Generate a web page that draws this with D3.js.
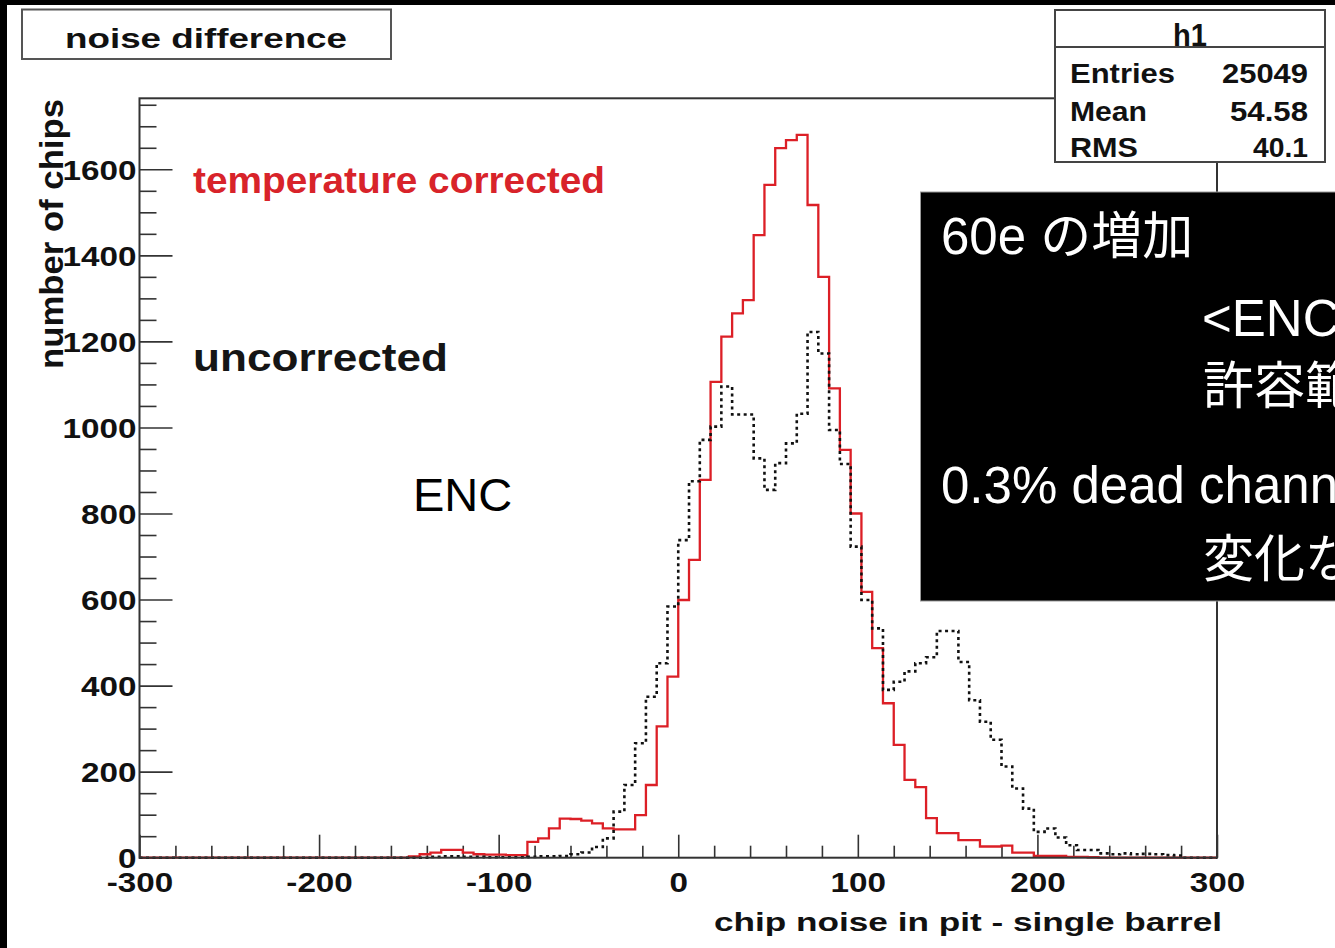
<!DOCTYPE html>
<html>
<head>
<meta charset="utf-8">
<script src="https://cdn.jsdelivr.net/npm/d3@7"></script>
<style>
  html, body { margin: 0; padding: 0; background: #000; }
  svg { display: block; }
</style>
</head>
<body>
<svg id="chart" width="1335" height="948"></svg>
<script>
// ---------------- data ----------------
const binStart = -300;
const binWidth = 6;
// temperature corrected (red, solid)
const corrected = [
  0,0,0,0,0,0,0,0,0,0, 0,0,0,0,0,0,0,0,0,0, 0,0,0,0,0,
  3,8,12,18,18,12,8,7,7,6,6,
  37,45,68,91,90,86,80,68,66,66,
  99,169,305,421,599,692,878,1106,1211,1265,1296,1447,1564,1649,1668,1680,
  1517,1350,1091,948,800,618,487,359,262,181,164,92,57,57,41,41,26,26,28,12,12,4,4,4,2,2,1,
  0,0,0,0,0,0,0,0,0,0,0
];
// uncorrected (black, dotted)
const uncorrected = [
  0,0,0,0,0,0,0,0,0,0, 0,0,0,0,0,0,0,0,0,0, 0,0,0,0,0,0,0,
  2,3,3,2,2,1,1,1,1,2,3,3,4,8,12,25,45,107,169,266,374,452,584,
  738,875,971,1002,1095,1030,1030,928,855,917,963,1032,1222,1172,994,915,
  723,599,533,390,409,433,452,466,527,527,455,366,316,274,212,161,114,
  60,68,47,29,18,18,10,8,10,8,9,8,6,5,
  0,0,0
];
const xMajorTicks = [-300, -200, -100, 0, 100, 200, 300];
const yMajorTicks = [0, 200, 400, 600, 800, 1000, 1200, 1400, 1600];
const titleText = "noise difference";
const xTitle = "chip noise in pit - single barrel";
const yTitle = "number of chips";
const legendCorrected = "temperature corrected";
const legendUncorrected = "uncorrected";
const statsName = "h1";
const statsLabels = ["Entries", "Mean", "RMS"];
const statsValues = ["25049", "54.58", "40.1"];
const slideLines = ["60e の増加", "<ENC>", "許容範囲", "0.3% dead channel", "変化なし"];
const encLabel = "ENC";

// ---------------- layout ----------------
const svg = d3.select("#chart");
const W = 1335, H = 948;
const frame = { left: 139.5, right: 1217, top: 98.3, bottom: 857.7 };

svg.append("rect").attr("x", 0).attr("y", 0).attr("width", W).attr("height", H).attr("fill", "#000");
svg.append("rect").attr("x", 7).attr("y", 5).attr("width", W - 7).attr("height", H - 5).attr("fill", "#fff");

const x = d3.scaleLinear().domain([-300, 300]).range([frame.left, frame.right]);
const y = d3.scaleLinear().domain([0, 1765]).range([frame.bottom, frame.top]);

const FONT = "'Liberation Sans', Arial, Helvetica, sans-serif";

function label(g, o) {
  const t = g.append("text")
    .attr("x", o.x).attr("y", o.y)
    .attr("font-family", o.family || FONT)
    .attr("font-size", o.size)
    .attr("font-weight", o.weight || "bold")
    .attr("fill", o.fill || "#111")
    .attr("text-anchor", o.anchor || "start")
    .text(o.text);
  if (o.len) t.attr("textLength", o.len).attr("lengthAdjust", "spacingAndGlyphs");
  if (o.transform) t.attr("transform", o.transform);
  return t;
}

// ---------------- axes ----------------
const tickColor = "#333";
const labelW = d => String(Math.abs(d)).length * 18.5 + (d < 0 ? 11 : 0);

// x minor ticks
const xMinor = d3.range(-280, 300, 20).filter(v => v % 100 !== 0);
svg.append("g").attr("transform", `translate(0,${frame.bottom})`)
  .call(d3.axisBottom(x).tickValues(xMinor).tickSize(-12).tickFormat(""))
  .call(g => g.select(".domain").remove())
  .call(g => g.selectAll("line").attr("stroke", tickColor).attr("stroke-width", 1.6));

// x major ticks + labels
svg.append("g").attr("transform", `translate(0,${frame.bottom})`)
  .call(d3.axisBottom(x).tickValues(xMajorTicks).tickSize(-23).tickPadding(14).tickFormat(d3.format("d")))
  .call(g => g.select(".domain").remove())
  .call(g => g.selectAll("line").attr("stroke", tickColor).attr("stroke-width", 1.6))
  .call(g => g.selectAll("text")
    .attr("font-family", FONT).attr("font-size", 28).attr("font-weight", "bold").attr("fill", "#111")
    .attr("textLength", d => labelW(d)).attr("lengthAdjust", "spacingAndGlyphs")
    .text(d => d < 0 ? "-" + Math.abs(d) : String(d)));

// y minor ticks
const yMinor = d3.range(50, 1765, 50).filter(v => v % 200 !== 0);
svg.append("g").attr("transform", `translate(${frame.left},0)`)
  .call(d3.axisLeft(y).tickValues(yMinor).tickSize(-17).tickFormat(""))
  .call(g => g.select(".domain").remove())
  .call(g => g.selectAll("line").attr("stroke", tickColor).attr("stroke-width", 1.6));

// y major ticks + labels
svg.append("g").attr("transform", `translate(${frame.left},0)`)
  .call(d3.axisLeft(y).tickValues(yMajorTicks).tickSize(-33).tickPadding(3).tickFormat(d3.format("d")))
  .call(g => g.select(".domain").remove())
  .call(g => g.selectAll("line").attr("stroke", tickColor).attr("stroke-width", 1.6))
  .call(g => g.selectAll("text")
    .attr("font-family", FONT).attr("font-size", 28).attr("font-weight", "bold").attr("fill", "#111")
    .attr("dy", "0.36em")
    .attr("textLength", d => labelW(d)).attr("lengthAdjust", "spacingAndGlyphs"));

// ---------------- histograms ----------------
function stepPoints(vals) {
  const pts = vals.map((v, i) => [binStart + i * binWidth, v]);
  pts.push([binStart + vals.length * binWidth, vals[vals.length - 1]]);
  return pts;
}
const line = d3.line().x(d => x(d[0])).y(d => y(d[1])).curve(d3.curveStepAfter);

svg.append("path").datum(stepPoints(corrected))
  .attr("d", line).attr("fill", "none")
  .attr("stroke", "#dc1f26").attr("stroke-width", 2.3);

svg.append("path").datum(stepPoints(uncorrected))
  .attr("d", line).attr("fill", "none")
  .attr("stroke", "#111").attr("stroke-width", 2.6)
  .attr("stroke-dasharray", "3 3.5");

// frame
svg.append("rect")
  .attr("x", frame.left).attr("y", frame.top)
  .attr("width", frame.right - frame.left).attr("height", frame.bottom - frame.top)
  .attr("fill", "none").attr("stroke", "#333").attr("stroke-width", 2);

// ---------------- axis titles ----------------
label(svg, { x: 1222, y: 931, text: xTitle, size: 26, anchor: "end", len: 508 });
label(svg, { x: 0, y: 0, text: yTitle, size: 34, anchor: "end", len: 270,
  transform: "translate(63,99) rotate(-90)" });

// ---------------- legend texts ----------------
label(svg, { x: 193, y: 193, text: legendCorrected, size: 37, fill: "#d8232a", len: 412 });
label(svg, { x: 193, y: 371, text: legendUncorrected, size: 39, fill: "#151515", len: 255 });

// ---------------- title box ----------------
svg.append("rect").attr("x", 22).attr("y", 9.5).attr("width", 369).attr("height", 49.5)
  .attr("fill", "#fff").attr("stroke", "#555").attr("stroke-width", 2);
label(svg, { x: 206, y: 48, text: titleText, size: 28, anchor: "middle", len: 282 });

// ---------------- stats box ----------------
const sb = { x: 1055, y: 10, w: 270, h: 152 };
svg.append("rect").attr("x", sb.x).attr("y", sb.y).attr("width", sb.w).attr("height", sb.h)
  .attr("fill", "#fff").attr("stroke", "#444").attr("stroke-width", 2);
svg.append("line").attr("x1", sb.x).attr("x2", sb.x + sb.w).attr("y1", 47).attr("y2", 47)
  .attr("stroke", "#444").attr("stroke-width", 2);
label(svg, { x: 1190, y: 46, text: statsName, size: 31, anchor: "middle", len: 34 });
const rowY = [83, 121, 157];
const labLen = [105, 77, 68];
const valLen = [86, 78, 55];
statsLabels.forEach((s, i) => {
  label(svg, { x: 1070, y: rowY[i], text: s, size: 28, len: labLen[i] });
  label(svg, { x: 1308, y: rowY[i], text: statsValues[i], size: 28, anchor: "end", len: valLen[i] });
});

// ---------------- slide overlay ----------------
svg.append("rect").attr("x", 920.5).attr("y", 192).attr("width", 420).attr("height", 409)
  .attr("fill", "#000").attr("stroke", "#9a9a9a").attr("stroke-width", 1);
const SLIDE_FONT = "'Liberation Sans', Arial, 'Noto Sans CJK JP', sans-serif";
const slidePos = [[941, 254], [1202, 336], [1203, 404], [941, 503], [1203, 577]];
slideLines.forEach((s, i) => {
  label(svg, { x: slidePos[i][0], y: slidePos[i][1], text: s, size: 51, weight: "normal",
    fill: "#fff", family: SLIDE_FONT });
});
label(svg, { x: 413, y: 511, text: encLabel, size: 47, weight: "normal", fill: "#000", family: SLIDE_FONT });
</script>
</body>
</html>
